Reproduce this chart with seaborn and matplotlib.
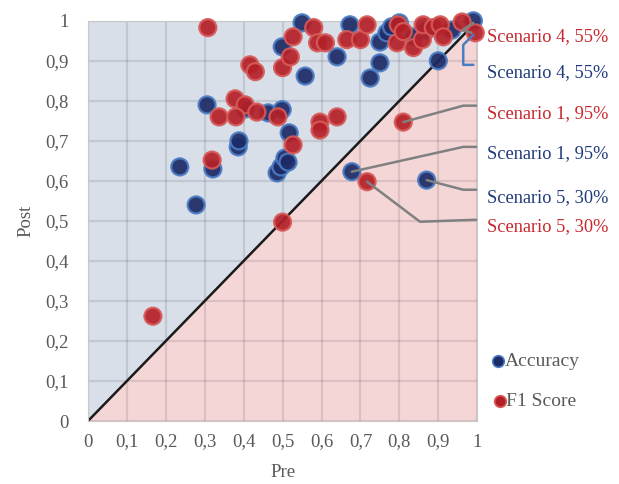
import numpy as np
import pandas as pd
import matplotlib
matplotlib.use("Agg")
import matplotlib.pyplot as plt
import seaborn as sns

# Accuracy (pre, post)
acc_pre = [0.236, 0.278, 0.321, 0.306, 0.386, 0.388, 0.404, 0.463, 0.499, 0.517,
           0.486, 0.496, 0.506, 0.514, 0.499, 0.550, 0.558, 0.640, 0.673, 0.750,
           0.750, 0.725, 0.768, 0.780, 0.800, 0.837, 0.870, 0.935, 0.900, 0.990,
           0.678, 0.870]
acc_post = [0.635, 0.540, 0.630, 0.790, 0.685, 0.700, 0.780, 0.770, 0.778, 0.720,
            0.620, 0.635, 0.657, 0.647, 0.935, 0.995, 0.862, 0.910, 0.990, 0.947,
            0.895, 0.857, 0.970, 0.985, 0.995, 0.960, 0.977, 0.977, 0.900, 1.000,
            0.623, 0.602]

# F1 Score (pre, post)
f1_pre = [0.167, 0.308, 0.319, 0.337, 0.378, 0.404, 0.380, 0.434, 0.488, 0.416,
          0.430, 0.500, 0.520, 0.527, 0.527, 0.500, 0.580, 0.590, 0.610, 0.665,
          0.700, 0.717, 0.794, 0.797, 0.810, 0.836, 0.859, 0.861, 0.887, 0.905,
          0.913, 0.961, 0.995, 0.640, 0.596, 0.596, 0.810, 0.717]
f1_post = [0.262, 0.983, 0.652, 0.760, 0.805, 0.790, 0.760, 0.772, 0.760, 0.890,
           0.873, 0.883, 0.910, 0.960, 0.690, 0.497, 0.983, 0.945, 0.945, 0.953,
           0.953, 0.990, 0.945, 0.990, 0.973, 0.933, 0.953, 0.990, 0.983, 0.990,
           0.960, 0.997, 0.970, 0.760, 0.747, 0.727, 0.747, 0.598]

ticks = [0, 0.1, 0.2, 0.3, 0.4, 0.5, 0.6, 0.7, 0.8, 0.9, 1]
tick_labels = ["0", "0,1", "0,2", "0,3", "0,4", "0,5", "0,6", "0,7", "0,8", "0,9", "1"]

# annotated scenarios: label, colour key, y of label
notes = [
    ("Scenario 4, 55%", "f1", 0.960),
    ("Scenario 4, 55%", "acc", 0.870),
    ("Scenario 1, 95%", "f1", 0.768),
    ("Scenario 1, 95%", "acc", 0.668),
    ("Scenario 5, 30%", "acc", 0.558),
    ("Scenario 5, 30%", "f1", 0.485),
]
leaders = [
    ([0.810, 0.964, 0.997], [0.747, 0.788, 0.788]),
    ([0.678, 0.964, 0.997], [0.623, 0.685, 0.685]),
    ([0.870, 0.964, 0.997], [0.602, 0.578, 0.578]),
    ([0.717, 0.853, 0.997], [0.598, 0.498, 0.503]),
    ([0.990, 0.962, 0.985], [0.995, 0.977, 0.970]),
]
z_leader = ([0.990, 0.964, 0.964, 0.990], [0.965, 0.940, 0.890, 0.890])

df = pd.DataFrame({
    "Pre": acc_pre + f1_pre,
    "Post": acc_post + f1_post,
    "Metric": ["Accuracy"] * len(acc_pre) + ["F1 Score"] * len(f1_pre),
})

sns.set_style("white")
plt.rcParams["font.family"] = ["Liberation Serif", "DejaVu Serif"]

grey_txt = "#595959"
navy = "#1c2a66"
red = "#b41f27"
txt_col = {"acc": "#1f3a7a", "f1": "#c8262d"}

fig = plt.figure(figsize=(6.19, 4.84), dpi=100)
ax = fig.add_axes([0.142, 0.130, 0.629, 0.827])

# background triangles
ax.fill([0, 0, 1], [0, 1, 1], color="#d9dfe9", zorder=0, lw=0)
ax.fill([0, 1, 1], [0, 0, 1], color="#f5d6d7", zorder=0, lw=0)
for t in ticks:
    ax.axvline(t, color="black", alpha=0.1, lw=1.6, zorder=0.5)
    ax.axhline(t, color="black", alpha=0.1, lw=1.6, zorder=0.5)

ax.plot([0, 1], [0, 1], color="#1a1a1a", lw=1.8, zorder=1)

sns.scatterplot(data=df, x="Pre", y="Post", hue="Metric",
                palette={"Accuracy": navy, "F1 Score": red},
                s=150, linewidth=1.6, alpha=0.92, zorder=3, ax=ax, legend=False,
                clip_on=False)
# lighter rims
cols = ax.collections[-1]
edge = ["#4a7cc4" if m == "Accuracy" else "#d65a58" for m in df["Metric"]]
cols.set_edgecolor(edge)

for xs, ys in leaders:
    ax.plot(xs, ys, color="#808080", lw=1.8, zorder=4, clip_on=False)
ax.plot(z_leader[0], z_leader[1], color="#4a7cc4", lw=1.8, zorder=4, clip_on=False)

for label, key, y in notes:
    ax.text(1.026, y, label, color=txt_col[key], fontsize=13.2,
            va="center", ha="left", transform=ax.transData, clip_on=False)

# legend
ax.scatter([1.053], [0.15], s=70, color=navy, edgecolor="#4a7cc4", lw=1.2, clip_on=False)
ax.text(1.07, 0.15, "Accuracy", fontsize=14, color=grey_txt, va="center")
ax.scatter([1.058], [0.05], s=70, color=red, edgecolor="#d65a58", lw=1.2, clip_on=False)
ax.text(1.075, 0.05, "F1 Score", fontsize=14, color=grey_txt, va="center")

ax.set_xlim(0, 1)
ax.set_ylim(0, 1)
ax.set_xticks(ticks)
ax.set_xticklabels(tick_labels)
ax.set_yticks(ticks)
ax.set_yticklabels(tick_labels)
ax.tick_params(axis="x", length=0, pad=9, labelsize=13.5, labelcolor=grey_txt)
ax.tick_params(axis="y", length=0, pad=14, labelsize=13.5, labelcolor=grey_txt)
ax.set_xlabel("Pre", fontsize=13.5, color=grey_txt, labelpad=10)
ax.set_ylabel("Post", fontsize=13.5, color=grey_txt, labelpad=8)
for sp in ax.spines.values():
    sp.set_color("#c8c8c8")

fig.savefig("out.png", dpi=100)
